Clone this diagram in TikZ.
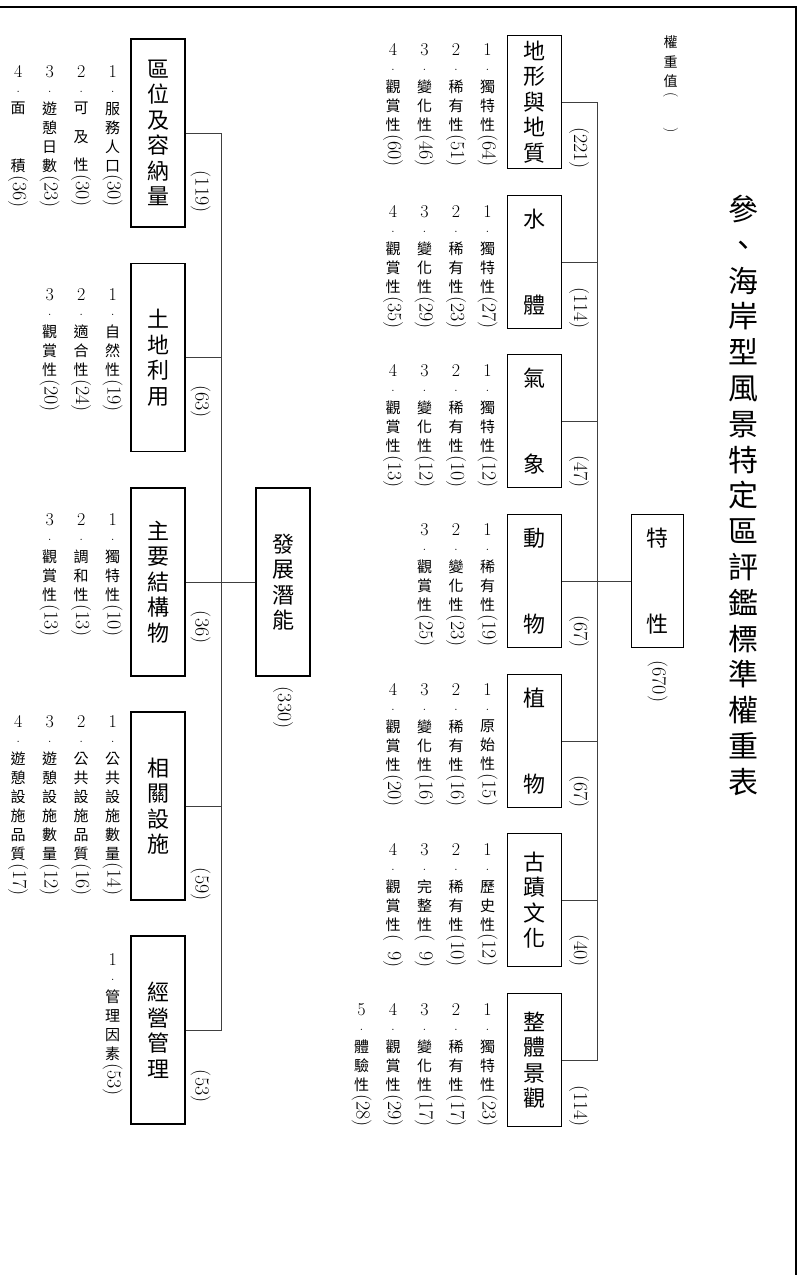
\documentclass[tikz,border=0pt]{standalone}
\usepackage{fontspec}
\newfontfamily\cjk{Noto Sans CJK TC}

% one row of sub items: x of item 1, top, list num/label/value
\newcommand\subitems[3]{%
 \foreach \num/\lbl/\val [count=\k] in {#3} {
  \node[num] (n\k) at ({#1-31.5*(\k-1)},#2) {\num};
  \node[dotmark] at ([yshift=-27pt]n\k.north) {.};
  \node[sub] (s\k) at ([yshift=-37pt]n\k.north) {\lbl};
  \node[wt, anchor=west] at ([yshift=-2pt]s\k.south) {(\val)};
 }}

\begin{document}
\begin{tikzpicture}[x=1pt,y=-1pt,
  box/.style={draw, line width=1.4pt, inner sep=0pt, minimum width=54pt, align=center, font=\cjk\fontsize{22}{25.5}\selectfont},
  num/.style={anchor=north, inner sep=0pt, font=\rmfamily\fontsize{18}{19}\selectfont},
  dotmark/.style={inner sep=0pt, font=\rmfamily\fontsize{15}{15}\selectfont},
  sub/.style={anchor=north, inner sep=0pt, align=center, font=\cjk\fontsize{15}{19}\selectfont},
  wt/.style={rotate=-90, inner sep=0pt, font=\rmfamily\fontsize{20}{22}\selectfont},
  link/.style={draw, line width=0.8pt, black!75}]
\useasboundingbox (0,0) rectangle (804,1275);
\draw[line width=2.4pt] (0,7) -- (796,7) -- (796,1275);

% title
\node[anchor=north, inner sep=0pt, align=center, font=\cjk\fontsize{30}{35.8}\selectfont] (title) at (743,195) {參\\、\\海\\岸\\型\\風\\景\\特\\定\\區\\評\\鑑\\標\\準\\權\\重\\表};
\node[sub, font=\cjk\fontsize{14}{19.5}\selectfont] (hdr) at (670.5,36) {權\\重\\值};
\node[wt, anchor=west, font=\rmfamily\fontsize{15}{18}\selectfont] at ([yshift=-4pt]hdr.south) {(\hspace{30pt})};

% characteristics
\node[box, minimum height=133pt, minimum width=52pt] (trait) at (657.5,581) {特\\[61pt]性};
\node[wt, anchor=west] at ([yshift=-12pt]trait.south) {(670)};

\node[box, minimum height=133pt] (geo) at (534.5,102) {地\\形\\與\\地\\質};
\node[box, minimum height=133pt] (water) at (534.5,262) {水\\[61pt]體};
\node[box, minimum height=133pt] (weather) at (534.5,421) {氣\\[61pt]象};
\node[box, minimum height=133pt] (fauna) at (534.5,581) {動\\[61pt]物};
\node[box, minimum height=133pt] (flora) at (534.5,741) {植\\[61pt]物};
\node[box, minimum height=133pt] (relic) at (534.5,900) {古\\蹟\\文\\化};
\node[box, minimum height=133pt] (scene) at (534.5,1060) {整\\體\\景\\觀};
\foreach \bx/\val in {geo/221, water/114, weather/47, fauna/67, flora/67, relic/40, scene/114}
  \node[wt, anchor=east] at ([xshift=17pt]\bx.south east) {(\val)};

\coordinate (rtop) at (597.5,102);
\draw[link] (geo.east) -- (rtop) |- (scene.east);
\foreach \bx in {water, weather, fauna, flora, relic}
  \draw[link] (\bx.east) -- (\bx.east -| rtop);
\draw[link] (trait.west) -- (trait.west -| rtop);

\subitems{487.5}{43}{1/獨\\特\\性/64, 2/稀\\有\\性/51, 3/變\\化\\性/46, 4/觀\\賞\\性/60}
\subitems{487.5}{205}{1/獨\\特\\性/27, 2/稀\\有\\性/23, 3/變\\化\\性/29, 4/觀\\賞\\性/35}
\subitems{487.5}{364}{1/獨\\特\\性/12, 2/稀\\有\\性/10, 3/變\\化\\性/12, 4/觀\\賞\\性/13}
\subitems{487.5}{523}{1/稀\\有\\性/19, 2/變\\化\\性/23, 3/觀\\賞\\性/25}
\subitems{487.5}{683}{1/原\\始\\性/15, 2/稀\\有\\性/16, 3/變\\化\\性/16, 4/觀\\賞\\性/20}
\subitems{487.5}{843}{1/歷\\史\\性/12, 2/稀\\有\\性/10, 3/完\\整\\性/\enspace9, 4/觀\\賞\\性/\enspace9}
\subitems{487.5}{1003}{1/獨\\特\\性/23, 2/稀\\有\\性/17, 3/變\\化\\性/17, 4/觀\\賞\\性/29, 5/體\\驗\\性/28}

% development potential
\node[box, minimum height=188pt] (dev) at (283,582) {發\\展\\潛\\能};
\node[wt, anchor=west] at ([yshift=-10pt]dev.south) {(330)};

\node[box, minimum height=188pt] (loc) at (158,133) {區\\位\\及\\容\\納\\量};
\node[box, minimum height=188pt] (land) at (158,357.5) {土\\地\\利\\用};
\node[box, minimum height=188pt] (build) at (158,582) {主\\要\\結\\構\\物};
\node[box, minimum height=188pt] (facil) at (158,806) {相\\關\\設\\施};
\node[box, minimum height=188pt] (mgmt) at (158,1030) {經\\營\\管\\理};
\foreach \bx/\val/\dy in {loc/119/15, land/63/34, build/36/33, facil/59/0, mgmt/53/22}
  \node[wt, anchor=east] at ([xshift=15pt, yshift=\dy pt]\bx.south east) {(\val)};

\coordinate (ltop) at (221,133);
\draw[link] (loc.east) -- (ltop) |- (mgmt.east);
\foreach \bx in {land, build, facil}
  \draw[link] (\bx.east) -- (\bx.east -| ltop);
\draw[link] (dev.west) -- (dev.west -| ltop);

\subitems{112.7}{65}{1/服\\務\\人\\口/30, 2/可\\[9.5pt]及\\[9.5pt]性/30, 3/遊\\憩\\日\\數/23, 4/面\\[39pt]積/36}
\subitems{112.7}{288}{1/自\\然\\性/19, 2/適\\合\\性/24, 3/觀\\賞\\性/20}
\subitems{112.7}{513}{1/獨\\特\\性/10, 2/調\\和\\性/13, 3/觀\\賞\\性/13}
\subitems{112.7}{715}{1/公\\共\\設\\施\\數\\量/14, 2/公\\共\\設\\施\\品\\質/16, 3/遊\\憩\\設\\施\\數\\量/12, 4/遊\\憩\\設\\施\\品\\質/17}
\subitems{112.7}{953}{1/管\\理\\因\\素/53}
\end{tikzpicture}
\end{document}
